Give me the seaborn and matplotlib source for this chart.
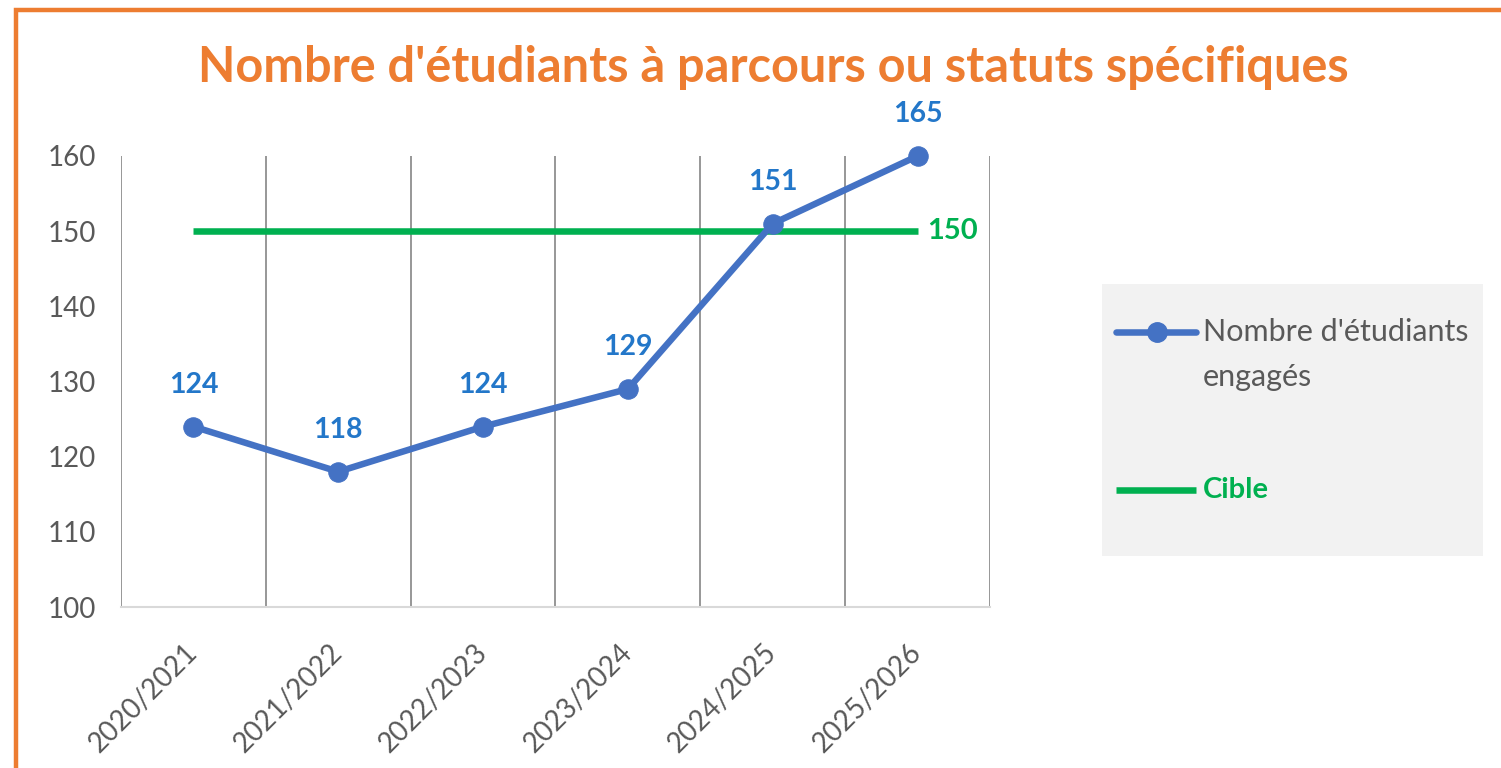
import numpy as np
import pandas as pd
import matplotlib
matplotlib.use("Agg")
import matplotlib.pyplot as plt
from matplotlib.patches import Rectangle
from matplotlib.lines import Line2D
import seaborn as sns

# data
years = ["2020/2021", "2021/2022", "2022/2023", "2023/2024", "2024/2025", "2025/2026"]
students = [124, 118, 124, 129, 151, 165]
target = [150, 150, 150, 150, 150, 150]
y_ticks = [100, 110, 120, 130, 140, 150, 160]

title = "Nombre d'étudiants à parcours ou statuts spécifiques"
label_students = "Nombre d'étudiants\nengagés"
label_target = "Cible"

BLUE = "#4472C4"
GREEN = "#00B050"
ORANGE = "#ED7D31"
LABEL_BLUE = "#2377C9"
GREY_TXT = "#595959"

sns.set_theme(style="white")
plt.rcParams['font.family'] = ['Lato', 'DejaVu Sans']

W, H = 1501, 768


def fx(px):
    return px / W


def fy(py):
    return 1 - py / H


y_min, y_max = y_ticks[0], y_ticks[-1]
df = pd.DataFrame({'year': years, 'students': students, 'target': target})
df['x'] = np.arange(len(df))
# excel pins values above the axis max onto the top edge
df['shown'] = df['students'].clip(upper=y_max)

fig = plt.figure(figsize=(W / 100, H / 100), dpi=100)
ax = fig.add_axes([fx(121), fy(607), fx(990 - 121), (607 - 156) / H])

sns.lineplot(data=df, x='x', y='target', color=GREEN, linewidth=4.7, ax=ax,
             solid_capstyle='butt', legend=False)
sns.lineplot(data=df, x='x', y='shown', color=BLUE, linewidth=4.7, marker='o',
             markersize=14, markeredgecolor=BLUE, ax=ax, legend=False, clip_on=False)

for xi, yi, v in zip(df['x'], df['shown'], df['students']):
    ax.annotate(str(v), (xi, yi), xytext=(0, 30), textcoords='offset points',
                ha='center', va='center', color=LABEL_BLUE, fontsize=20.5, fontweight='bold')
ax.annotate(str(target[-1]), (df['x'].iloc[-1], target[-1]), xytext=(7, 0),
            textcoords='offset points', ha='left', va='center', color=GREEN,
            fontsize=21, fontweight='bold')

ax.set_xlim(-0.5, len(years) - 0.5)
ax.set_ylim(y_min, y_max)
ax.set_yticks(y_ticks)
ax.set_xticks(df['x'])
ax.set_xticklabels(years, rotation=45, ha='right', va='center', rotation_mode='anchor')
ax.set_xticks(np.arange(-0.5, len(years)), minor=True)
ax.grid(which='minor', axis='x', color='#7A7A7A', linewidth=1.1)
ax.tick_params(axis='both', which='both', length=0, colors=GREY_TXT, labelsize=20)
ax.tick_params(axis='y', pad=18)
ax.tick_params(axis='x', pad=30)
ax.set_xlabel('')
ax.set_ylabel('')
for s in ['top', 'left', 'right']:
    ax.spines[s].set_visible(False)
ax.spines['bottom'].set_color('#D9D9D9')
ax.spines['bottom'].set_linewidth(1.5)

fig.text(fx(773), fy(67), title, ha='center', va='center', color=ORANGE,
         fontsize=35, fontweight='bold')

# legend box, laid out like the excel one
fig.patches.append(Rectangle((fx(1102), fy(556)), fx(1483 - 1102), (556 - 284) / H,
                             transform=fig.transFigure, facecolor='#F2F2F2',
                             edgecolor='none', zorder=0))
fig.lines.append(Line2D([fx(1116), fx(1196)], [fy(332), fy(332)], transform=fig.transFigure,
                        color=BLUE, lw=4.7))
fig.lines.append(Line2D([fx(1157)], [fy(332)], transform=fig.transFigure, color=BLUE,
                        marker='o', markersize=14))
fig.lines.append(Line2D([fx(1116), fx(1196)], [fy(490), fy(490)], transform=fig.transFigure,
                        color=GREEN, lw=4.7, solid_capstyle='butt'))
fig.text(fx(1203), fy(318), label_students, ha='left', va='top', color=GREY_TXT,
         fontsize=22, linespacing=1.75)
fig.text(fx(1203), fy(490), label_target, ha='left', va='center', color=GREEN,
         fontsize=21, fontweight='bold')

fig.patches.append(Rectangle((fx(16), -0.1), 1.2, 1.1 - 10 / H, transform=fig.transFigure,
                             fill=False, edgecolor=ORANGE, linewidth=3.2))

fig.savefig('out.png', dpi=100)
